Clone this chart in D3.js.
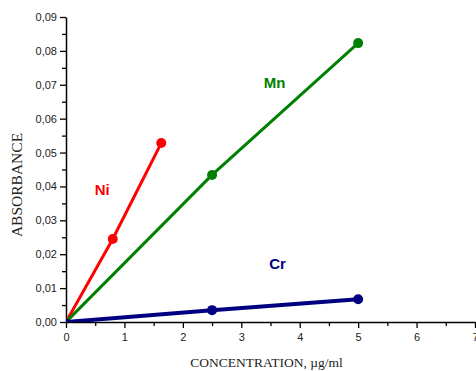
<!DOCTYPE html>
<html>
<head>
<meta charset="utf-8">
<script src="https://cdn.jsdelivr.net/npm/d3@7"></script>
<style>
  body { margin: 0; background: #fff; }
  svg { display: block; }
</style>
</head>
<body>
<div id="chart"></div>
<script>
// series values
var niX = [0, 0.8, 1.63];
var niY = [0, 0.0245, 0.0528];
var mnX = [0, 2.5, 5];
var mnY = [0, 0.0434, 0.0823];
var crX = [0, 2.5, 5];
var crY = [0, 0.0035, 0.0067];

var xTicks = [0, 1, 2, 3, 4, 5, 6, 7];
var yTicks = [0, 0.01, 0.02, 0.03, 0.04, 0.05, 0.06, 0.07, 0.08, 0.09];

var width = 476, height = 371;
var margin = { left: 66, right: 1, top: 17, bottom: 49 };

var svg = d3.select("#chart").append("svg")
    .attr("width", width)
    .attr("height", height);

var x = d3.scaleLinear().domain([0, 7]).range([margin.left, width - margin.right]);
var y = d3.scaleLinear().domain([0, 0.09]).range([height - margin.bottom, margin.top]);

var fmt = function (d) { return d3.format(".2f")(d).replace(".", ","); };

// minor ticks
svg.append("g")
    .attr("transform", "translate(0," + y(0) + ")")
    .call(d3.axisBottom(x).tickValues(d3.range(0.5, 7, 1)).tickSize(4).tickFormat(""))
    .call(function (g) { g.select(".domain").remove(); g.selectAll("line").attr("stroke-width", 1.3); });
svg.append("g")
    .attr("transform", "translate(" + x(0) + ",0)")
    .call(d3.axisLeft(y).tickValues(d3.range(0.005, 0.09, 0.01)).tickSize(4).tickFormat(""))
    .call(function (g) { g.select(".domain").remove(); g.selectAll("line").attr("stroke-width", 1.3); });

// major axes
var xAxis = svg.append("g")
    .attr("transform", "translate(0," + y(0) + ")")
    .call(d3.axisBottom(x).tickValues(xTicks).tickSize(6).tickSizeOuter(0).tickPadding(5).tickFormat(d3.format("d")));
var yAxis = svg.append("g")
    .attr("transform", "translate(" + x(0) + ",0)")
    .call(d3.axisLeft(y).tickValues(yTicks).tickSize(6).tickSizeOuter(0).tickPadding(3).tickFormat(fmt));

[xAxis, yAxis].forEach(function (g) {
    g.select(".domain").attr("stroke-width", 1.5);
    g.selectAll("line").attr("stroke-width", 1.3);
    g.selectAll("text")
        .attr("font-family", "Liberation Sans, Arial, sans-serif")
        .attr("font-size", 11)
        .attr("fill", "#222");
});

// axis titles
svg.append("text")
    .attr("x", 266.5).attr("y", 367)
    .attr("text-anchor", "middle")
    .attr("font-family", "Liberation Serif, Times New Roman, serif")
    .attr("font-size", 13.5)
    .attr("fill", "#222")
    .text("CONCENTRATION, µg/ml");

svg.append("text")
    .attr("transform", "translate(21.5,185) rotate(-90)")
    .attr("text-anchor", "middle")
    .attr("font-family", "Liberation Serif, Times New Roman, serif")
    .attr("font-size", 15.5)
    .attr("fill", "#222")
    .text("ABSORBANCE");

svg.append("clipPath").attr("id", "plot")
    .append("rect")
    .attr("x", x(0)).attr("y", y(0.09))
    .attr("width", x(7) - x(0)).attr("height", y(0) - y(0.09));

var series = [
    { name: "Ni", xs: niX, ys: niY, color: "#ff0000", w: 3, lx: 0.62, ly: 0.0375 },
    { name: "Mn", xs: mnX, ys: mnY, color: "#008000", w: 3, lx: 3.57, ly: 0.0690 },
    { name: "Cr", xs: crX, ys: crY, color: "#000080", w: 4, lx: 3.62, ly: 0.0155 }
];

var line = d3.line().x(function (d) { return x(d[0]); }).y(function (d) { return y(d[1]); });

var plot = svg.append("g").attr("clip-path", "url(#plot)");

series.forEach(function (s) {
    var pts = s.xs.map(function (v, i) { return [v, s.ys[i]]; });
    plot.append("path")
        .datum(pts)
        .attr("d", line)
        .attr("fill", "none")
        .attr("stroke", s.color)
        .attr("stroke-width", s.w);
    plot.selectAll(null)
        .data(pts)
        .enter().append("circle")
        .attr("cx", function (d) { return x(d[0]); })
        .attr("cy", function (d) { return y(d[1]); })
        .attr("r", function (d, i) { return i === 0 ? 3.5 : 5; })
        .attr("fill", s.color);
    svg.append("text")
        .attr("x", x(s.lx)).attr("y", y(s.ly))
        .attr("text-anchor", "middle")
        .attr("font-family", "Liberation Sans, Arial, sans-serif")
        .attr("font-weight", "bold")
        .attr("font-size", 15)
        .attr("fill", s.color)
        .text(s.name);
});
</script>
</body>
</html>
